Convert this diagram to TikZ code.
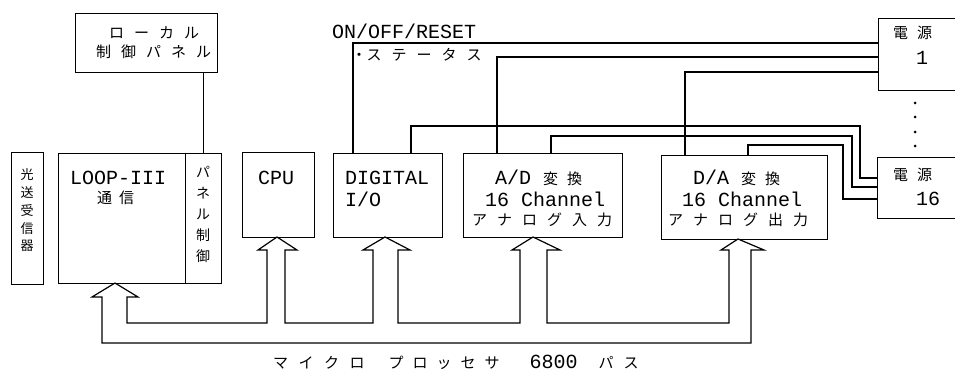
\documentclass[tikz,border=0pt]{standalone}
\usepackage{fontspec}
\setmainfont{Liberation Mono}
\newfontfamily\jpf{Noto Sans CJK JP}
\usetikzlibrary{calc}
\ExplSyntaxOn
\NewDocumentCommand\js{O{10pt}m}
 {
  \bool_set_true:N \l_tmpa_bool
  \tl_map_inline:nn {#2}
   {
    \bool_if:NTF \l_tmpa_bool
     { \bool_set_false:N \l_tmpa_bool }
     { \hspace{#1} }
    ##1
   }
 }
\ExplSyntaxOff
\newcommand\jtx[2][10pt]{{\jpf\fontsize{15}{18}\selectfont\js[#1]{#2}}}
\begin{document}
\begin{tikzpicture}[x=1pt,y=-1pt,
  ln/.style={line width=1.2pt, line join=miter},
  box/.style={draw, line width=1.2pt, inner sep=0pt, anchor=north west},
  lat/.style={font=\fontsize{20}{24}\selectfont, inner sep=0pt, anchor=base west},
  jp/.style={inner sep=0pt, anchor=base west},
  vjp/.style={inner sep=0pt, align=center}]
\useasboundingbox (0,0) rectangle (955,371);
\clip (0,0) rectangle (955,371);

% boxes
\node[box, minimum width=142pt, minimum height=59pt] (local) at (75,13) {};
\node[box, minimum width=32pt, minimum height=132pt] (opt) at (11,152) {};
\node[box, minimum width=127pt, minimum height=130pt] (loop) at (58,153) {};
\node[box, minimum width=36pt, minimum height=130pt] (pnl) at (185,153) {};
\node[box, minimum width=72pt, minimum height=85pt] (cpu) at (242,152) {};
\node[box, minimum width=109pt, minimum height=84pt] (dio) at (333,153) {};
\node[box, minimum width=159pt, minimum height=84pt] (ad) at (463,153) {};
\node[box, minimum width=166pt, minimum height=84pt] (da) at (661,155) {};
\node[box, minimum width=100pt, minimum height=72pt] (psu1) at (878,18) {};
\node[box, minimum width=100pt, minimum height=61pt] (psu16) at (877,157) {};

% signal lines
\draw[ln] (pnl.north) -- (pnl.north |- local.south);
\draw[ln] ([xshift=20pt]dio.north west) |- ([yshift=-25pt]psu1.north west);
\draw[ln] ([xshift=34pt]ad.north west) |- ([yshift=-39pt]psu1.north west);
\draw[ln] ([xshift=24pt]da.north west) |- ([yshift=-54pt]psu1.north west);
\draw[ln] ([xshift=78pt]dio.north west) |- (860,126) |- ([yshift=-21pt]psu16.north west);
\draw[ln] ([xshift=88pt]ad.north west) |- (852,136) |- ([yshift=-30pt]psu16.north west);
\draw[ln] ([xshift=87pt]da.north west) |- (843,145) |- ([yshift=-42pt]psu16.north west);

% dots between power supplies
\foreach \yy in {103,117,132,146} \fill (915,\yy) circle (1.5pt);

% bus outline
\draw[ln] (102,297) -- (102,343) -- (751,343) -- (751,250) -- (764,250) -- (738,239)
  -- (721,250) -- (729,250) -- (729,323) -- (547,323) -- (547,250) -- (560,250)
  -- (533,237) -- (512,250) -- (520,250) -- (520,323) -- (398,323) -- (398,250)
  -- (410,250) -- (385,237) -- (363,250) -- (373,250) -- (373,323) -- (285,323)
  -- (285,250) -- (297,250) -- (277,237) -- (258,250) -- (267,250) -- (267,323)
  -- (127,323) -- (127,297) -- (138,297) -- (115,283) -- (92,297) -- cycle;

% texts
\node[jp] (tlocal1) at (109,39) {\jtx{ローカル}};
\node[jp] (tlocal2) at (96,58) {\jtx{制御パネル}};
\node[lat] (tonoff) at (332,38.5) {ON/OFF/RESET};
\node[jp] (tstatus) at (351.5,61) {{\jpf\fontsize{15}{18}\selectfont ・}\jtx{ステータス}};
\node[jp] (tbus) at (273,368) {\jtx[10.5pt]{マイクロ}\hspace{24pt}\jtx[9pt]{プロッセサ}\hspace{30pt}{\fontsize{20}{24}\selectfont 6800}\hspace{21pt}\jtx{パス}};
\node[vjp, font=\jpf\fontsize{13}{17.75}\selectfont] (topt) at (27,210.5) {光\\送\\受\\信\\器};
\node[vjp, font=\jpf\fontsize{14}{21}\selectfont] (tpnl) at (203,214) {パ\\ネ\\ル\\制\\御};
\node[lat] (tloop) at (70,184.5) {LOOP-III};
\node[jp] (tloop2) at (97,204) {\jtx[7pt]{通信}};
\node[lat] (tcpu) at (258,184.5) {CPU};
\node[lat] (tdio1) at (345,184.5) {DIGITAL};
\node[lat] (tdio2) at (345,206.5) {I/O};
\node[lat] (tad1) at (495,184.5) {A/D\hspace{12pt}\jtx[9pt]{変換}};
\node[lat] (tad2) at (485,206.5) {16 Channel};
\node[jp] (tad3) at (472,226) {\jtx{アナログ入力}};
\node[lat] (tda1) at (693,184.5) {D/A\hspace{12pt}\jtx[9pt]{変換}};
\node[lat] (tda2) at (682,206.5) {16 Channel};
\node[jp] (tda3) at (668,226) {\jtx{アナログ出力}};
\node[jp] (tpsu1a) at (893,39) {\jtx[9pt]{電源}};
\node[lat] (tpsu1b) at (916,64.5) {1};
\node[jp] (tpsu16a) at (893,181) {\jtx[9pt]{電源}};
\node[lat] (tpsu16b) at (916,205.5) {16};
\end{tikzpicture}
\end{document}
